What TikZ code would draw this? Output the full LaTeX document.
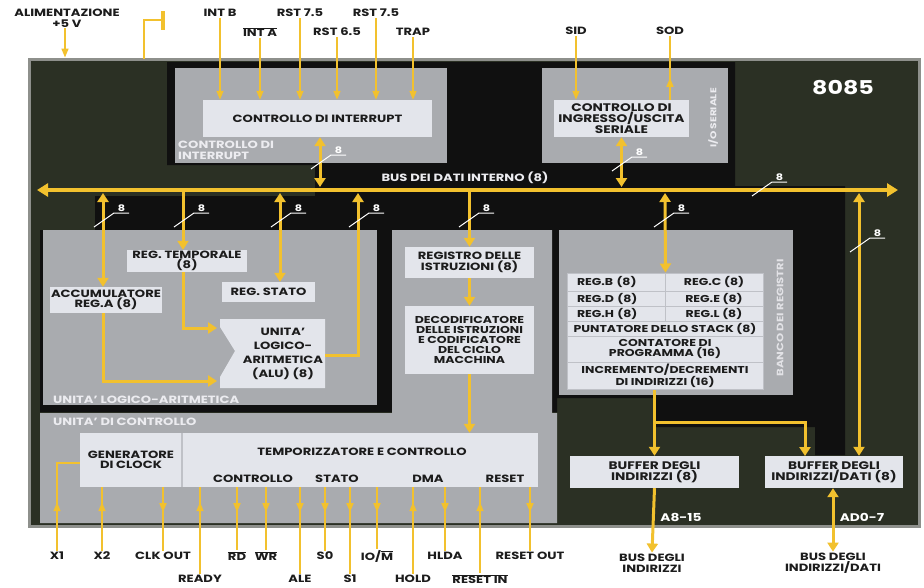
\documentclass[tikz,border=0pt]{standalone}
\usepackage{fontspec}
\setmainfont{Poppins}[FakeStretch=1.25]
\usetikzlibrary{arrows.meta,decorations.markings}
\definecolor{chipc}{HTML}{2B3024}
\definecolor{chipedge}{HTML}{8E908C}
\definecolor{blk}{HTML}{101010}
\definecolor{panelc}{HTML}{A9ABAF}
\definecolor{boxc}{HTML}{E3E5EB}
\definecolor{yel}{HTML}{F2C12E}
\definecolor{lblc}{HTML}{ECECF0}
\definecolor{txt}{HTML}{1C1C1C}
\definecolor{sepc}{HTML}{BFC1C7}
\newcommand\fA{\fontsize{10.5}{10.5}\selectfont\bfseries}
\newcommand\fT{\fontsize{10}{10}\selectfont\bfseries}
\newcommand\fL{\fontsize{11}{11}\selectfont\bfseries}
\newcommand\fB{\fontsize{10.5}{11}\selectfont\bfseries}
\newcommand\fC{\fontsize{10.5}{10.5}\selectfont\bfseries}
\newcommand\fE{\fontsize{9}{9}\selectfont\bfseries}
\newcommand\ovl[1]{$\overline{\mbox{#1}}$}
\newcommand\eightmark[3]{%
  \draw[white, line width=1pt] (#2-9,#3+14) -- (#2+11,#3) -- (#2+26,#3);
  \node[font=\fE, text=white, inner sep=0pt, anchor=south] (#1) at (#2+18.5,#3-1.5) {8};
}
\tikzset{
  box/.style={fill=boxc, inner sep=0pt, align=center, font=\fA, text=txt},
  cell/.style={box, font=\fT, draw=sepc, line width=1pt},
  lcell/.style={cell, align=left, text width=78pt, inner xsep=10pt},
  panel/.style={fill=panelc, inner sep=0pt},
  plbl/.style={font=\fC, text=lblc, align=left, inner sep=0pt},
  pinlbl/.style={font=\fB, text=txt, inner sep=1pt, align=center},
  bar/.style={draw=yel, line width=3pt},
  bartip/.style={bar, -{Triangle[width=11pt,length=9pt]}},
  bartips/.style={bar, {Triangle[width=11pt,length=9pt]}-{Triangle[width=11pt,length=9pt]}},
  pinl/.style={color=yel, line width=1.6pt},
  pintop/.style={pinl, -{Triangle[width=7pt,length=9pt]}},
  pinout/.style={pinl, postaction={decorate}, decoration={markings, mark=at position #1 with {\arrow{Triangle[width=7pt,length=9pt]}}}},
  pinin/.style={pinl, postaction={decorate}, decoration={markings, mark=at position #1 with {\arrowreversed{Triangle[width=7pt,length=9pt]}}}},
}
\begin{document}
\begin{tikzpicture}[x=1pt,y=-1pt]
\useasboundingbox (0,0) rectangle (924,587);
\fill[white] (0,0) rectangle (924,587);

% chip
\node[fill=chipc, draw=chipedge, line width=3pt, minimum width=890pt, minimum height=467pt, inner sep=0pt] (chip) at (474,292.5) {};
\fill[blk] (167,62) -- (735,62) -- (735,186) -- (845,186) -- (845,455) -- (815,455) -- (815,427) -- (655,427) -- (655,398) -- (557,398) -- (557,412) -- (40,412) -- (40,230) -- (95,230) -- (95,196) -- (315,196) -- (315,165) -- (167,165) -- cycle;

% panels
\node[panel, minimum width=272pt, minimum height=95pt] (intpanel) at (311,115.5) {};
\node[panel, minimum width=186pt, minimum height=95pt] (serpanel) at (635,115.5) {};
\node[panel, minimum width=334pt, minimum height=175pt] (alupanel) at (210,317.5) {};
\node[panel, minimum width=234pt, minimum height=165pt] (regpanel) at (676,312.5) {};
\fill[panelc] (392,230) -- (552,230) -- (552,413) -- (557,413) -- (557,523) -- (40,523) -- (40,413) -- (392,413) -- cycle;

% panel labels
\node[plbl, anchor=north west] (lintp) at (178,141) {CONTROLLO DI\\INTERRUPT};
\node[plbl, rotate=90, font=\fontsize{8.5}{8.5}\selectfont\bfseries] (lserp) at (713,118) {I/O SERIALE};
\node[plbl, anchor=west] (lalup) at (53,400) {UNITA' LOGICO-ARITMETICA};
\node[plbl, anchor=west] (lctlp) at (53,422) {UNITA' DI CONTROLLO};
\node[plbl, rotate=90, font=\fontsize{9.3}{9.3}\selectfont\bfseries, text=lblc!85!panelc] (lregp) at (780,318) {BANCO DEI REGISTRI};
\node[font=\fontsize{19}{19}\selectfont\bfseries, text=white, inner sep=0pt] (t8085) at (843,88) {8085};

% boxes
\node[box, minimum width=229pt, minimum height=37pt] (intbox) at (317.5,118.5) {CONTROLLO DI INTERRUPT};
\node[box, font=\fL, minimum width=135pt, minimum height=37pt] (serbox) at (621.5,118.5) {CONTROLLO DI\\INGRESSO/USCITA\\SERIALE};
\node[box, minimum width=112pt, minimum height=26pt] (acc) at (106,300) {ACCUMULATORE\\REG.A (8)};
\node[box, minimum width=120pt, minimum height=22pt] (temp) at (187,261) {REG. TEMPORALE\\(8)};
\node[box, minimum width=93pt, minimum height=20pt] (stato) at (268.5,292) {REG. STATO};
\fill[boxc] (220,319) -- (325,319) -- (325,388) -- (220,388) -- (220,377) -- (235,351) -- (220,327) -- cycle;
\node[box, fill=none, font=\fontsize{10.5}{14}\selectfont\bfseries] (alu) at (283,354) {UNITA'\\LOGICO-\\ARITMETICA\\(ALU) (8)};
\coordinate (aluT) at (217,328);
\coordinate (aluA) at (217,381);
\coordinate (aluO) at (325,355);
\node[box, minimum width=129pt, minimum height=31pt] (istr) at (469.5,262.5) {REGISTRO DELLE\\ISTRUZIONI (8)};
\node[box, font=\fT, minimum width=129pt, minimum height=68pt] (dec) at (469.5,340) {DECODIFICATORE\\DELLE ISTRUZIONI\\E CODIFICATORE\\DEL CICLO\\MACCHINA};

\node[lcell, minimum height=18pt] (rb) at (616,282) {REG.B (8)};
\node[cell, minimum width=98pt, minimum height=18pt] (rc) at (714,282) {REG.C (8)};
\node[lcell, minimum height=15pt] (rd) at (616,298.5) {REG.D (8)};
\node[cell, minimum width=98pt, minimum height=15pt] (re) at (714,298.5) {REG.E (8)};
\node[lcell, minimum height=15pt] (rh) at (616,313.5) {REG.H (8)};
\node[cell, minimum width=98pt, minimum height=15pt] (rl) at (714,313.5) {REG.L (8)};
\node[cell, minimum width=196pt, minimum height=15pt] (sp) at (665,328.5) {PUNTATORE DELLO STACK (8)};
\node[cell, minimum width=196pt, minimum height=26pt] (pc) at (665,349) {CONTATORE DI\\PROGRAMMA (16)};
\node[cell, minimum width=196pt, minimum height=27pt] (inc) at (665,375.5) {INCREMENTO/DECREMENTI\\DI INDIRIZZI (16)};

\node[box, font=\fL, minimum width=169pt, minimum height=32pt] (abuf) at (654.5,472) {BUFFER DEGLI\\INDIRIZZI (8)};
\node[box, font=\fL, minimum width=138pt, minimum height=32pt] (adbuf) at (834,472) {BUFFER DEGLI\\INDIRIZZI/DATI (8)};

\node[box, minimum width=102pt, minimum height=54pt] (clk) at (131,460) {GENERATORE\\DI CLOCK};
\node[box, minimum width=356pt, minimum height=54pt] (tim) at (360,460) {};
\draw[sepc, line width=1.5pt] (clk.north east) -- (clk.south east);
\node[box, fill=none] (ttim) at (362,452) {TEMPORIZZATORE E CONTROLLO};
\node[box, fill=none] (tctl) at (253,479) {CONTROLLO};
\node[box, fill=none] (tsta) at (337,479) {STATO};
\node[box, fill=none] (tdma) at (428,479) {DMA};
\node[box, fill=none] (tres) at (505,479) {RESET};

% bus
\coordinate (busL) at (37,190);
\coordinate (busR) at (898,190);
\draw[draw=yel, line width=4pt, {Triangle[width=13pt,length=11pt]}-{Triangle[width=13pt,length=11pt]}] (busL) -- (busR);
\node[font=\fA, text=lblc, inner sep=0pt] (lbus) at (465,178) {BUS DEI DATI INTERNO (8)};

% bus connections
\coordinate (bInt) at (320,187);
\coordinate (bSer) at (621.5,187);
\coordinate (bAcc) at (103,193);
\coordinate (bTemp) at (183,191);
\coordinate (bStato) at (280,193);
\coordinate (bAluO) at (358,193);
\coordinate (bIstr) at (469.5,191);
\coordinate (bReg) at (665,193);
\coordinate (bRight) at (859,193);
\coordinate (jn) at (654.5,422);
\coordinate (adIn) at (805,456);

\draw[bartips] ([xshift=2.5pt]intbox.south) -- (bInt);
\draw[bartips] (serbox.south) -- (bSer);
\draw[bartips] (bAcc) -- ([xshift=-3pt]acc.north);
\draw[bartip] (bTemp) -- ([xshift=-4pt]temp.north);
\draw[bartips] (bStato) -- (bStato |- stato.north);
\draw[bartip] (aluO) -| (bAluO);
\draw[bartip] ([xshift=-4pt]temp.south) |- (aluT);
\draw[bartip] ([xshift=-3pt]acc.south) |- (aluA);
\draw[bartip] (bIstr) -- (istr.north);
\draw[bartip] (istr.south) -- (dec.north);
\draw[bartip] (dec.south) -- (dec.south |- tim.north);
\draw[bartips] (bReg) -- (rb.north east);
\draw[bartips] (bRight) -- (bRight |- adbuf.north);
\draw[bartip] (inc.south -| abuf.north) -- (abuf.north);
\draw[bartip] (jn) -| (adIn);

\eightmark{e1}{320}{155}
\eightmark{e2}{621}{157}
\eightmark{e3}{761}{182}
\eightmark{e4}{103}{213}
\eightmark{e5}{183}{213}
\eightmark{e6}{280}{213}
\eightmark{e7}{358}{213}
\eightmark{e8}{468}{213}
\eightmark{e9}{663}{213}
\eightmark{e10}{859}{238}

% outputs of buffers
\node[pinlbl] (lAbus) at (652,563) {BUS DEGLI\\INDIRIZZI};
\node[pinlbl] (lADbus) at (833,563) {BUS DEGLI\\INDIRIZZI/DATI};
\draw[bartip] (abuf.south) -- (lAbus.north);
\draw[bartips] ([xshift=-1pt]adbuf.south) -- (lADbus.north);
\node[font=\fontsize{11}{11}\selectfont\bfseries, text=white, inner sep=0pt] (tA815) at (681,517) {A8-15};
\node[font=\fontsize{11}{11}\selectfont\bfseries, text=white, inner sep=0pt] (tAD07) at (862,517) {AD0-7};

% top pins
\node[pinlbl] (lPow) at (67,18) {ALIMENTAZIONE\\+5 V};
\draw[pintop] ([xshift=-2pt]lPow.south) -- ([xshift=-2pt]lPow.south |- chip.north);
\draw[yel, line width=1.6pt] (144,59) -- (144,20) -- (162,20);
\draw[yel, line width=4pt] (163,11) -- (163,30);

\node[pinlbl] (lINTB) at (220,13) {INT B};
\node[pinlbl] (lINTA) at (260,32) {\ovl{INT A}};
\node[pinlbl] (lR75a) at (300,13) {RST 7.5};
\node[pinlbl] (lR65) at (337,32) {RST 6.5};
\node[pinlbl] (lR75b) at (376,13) {RST 7.5};
\node[pinlbl] (lTRAP) at (413,32) {TRAP};
\foreach \p in {lINTB,lINTA,lR75a,lR65,lR75b,lTRAP}
  \draw[pintop] (\p.south) -- (\p.south |- intbox.north);
\node[pinlbl] (lSID) at (576,31) {SID};
\node[pinlbl] (lSOD) at (670,31) {SOD};
\draw[pintop] (lSID.south) -- (lSID.south |- serbox.north);
\draw[pinout=22pt] (lSOD.south |- serbox.north) -- (lSOD.south);

% bottom pins
\node[pinlbl] (lX1) at (57,556) {X1};
\node[pinlbl] (lX2) at (102,556) {X2};
\node[pinlbl] (lCLK) at (163,556) {CLK OUT};
\node[pinlbl] (lRDY) at (200,579) {READY};
\node[pinlbl] (lRD) at (237,556) {\ovl{RD}};
\node[pinlbl] (lWR) at (266,556) {\ovl{WR}};
\node[pinlbl] (lALE) at (300,579) {ALE};
\node[pinlbl] (lS0) at (325,556) {S0};
\node[pinlbl] (lS1) at (350,579) {S1};
\node[pinlbl] (lIOM) at (377,556) {IO/\ovl{M}};
\node[pinlbl] (lHOLD) at (413,579) {HOLD};
\node[pinlbl] (lHLDA) at (445,556) {HLDA};
\node[pinlbl] (lRIN) at (480,579) {\ovl{RESET IN}};
\node[pinlbl] (lROUT) at (530,556) {RESET OUT};
\coordinate (cX1) at (57,463);
\draw[pinin=62pt] (cX1 -| clk.west) -- (cX1) -- (lX1.north);
\draw[pinin=15pt] (lX2.north |- clk.south) -- (lX2.north);
\draw[pinout=25pt] (lCLK.north |- clk.south) -- (lCLK.north);
\foreach \p in {lRDY,lHOLD,lRIN}
  \draw[pinin=15pt] (\p.north |- tim.south) -- (\p.north);
\foreach \p in {lRD,lWR,lALE,lS0,lS1,lIOM,lHLDA,lROUT}
  \draw[pinout=25pt] (\p.north |- tim.south) -- (\p.north);
\end{tikzpicture}
\end{document}
